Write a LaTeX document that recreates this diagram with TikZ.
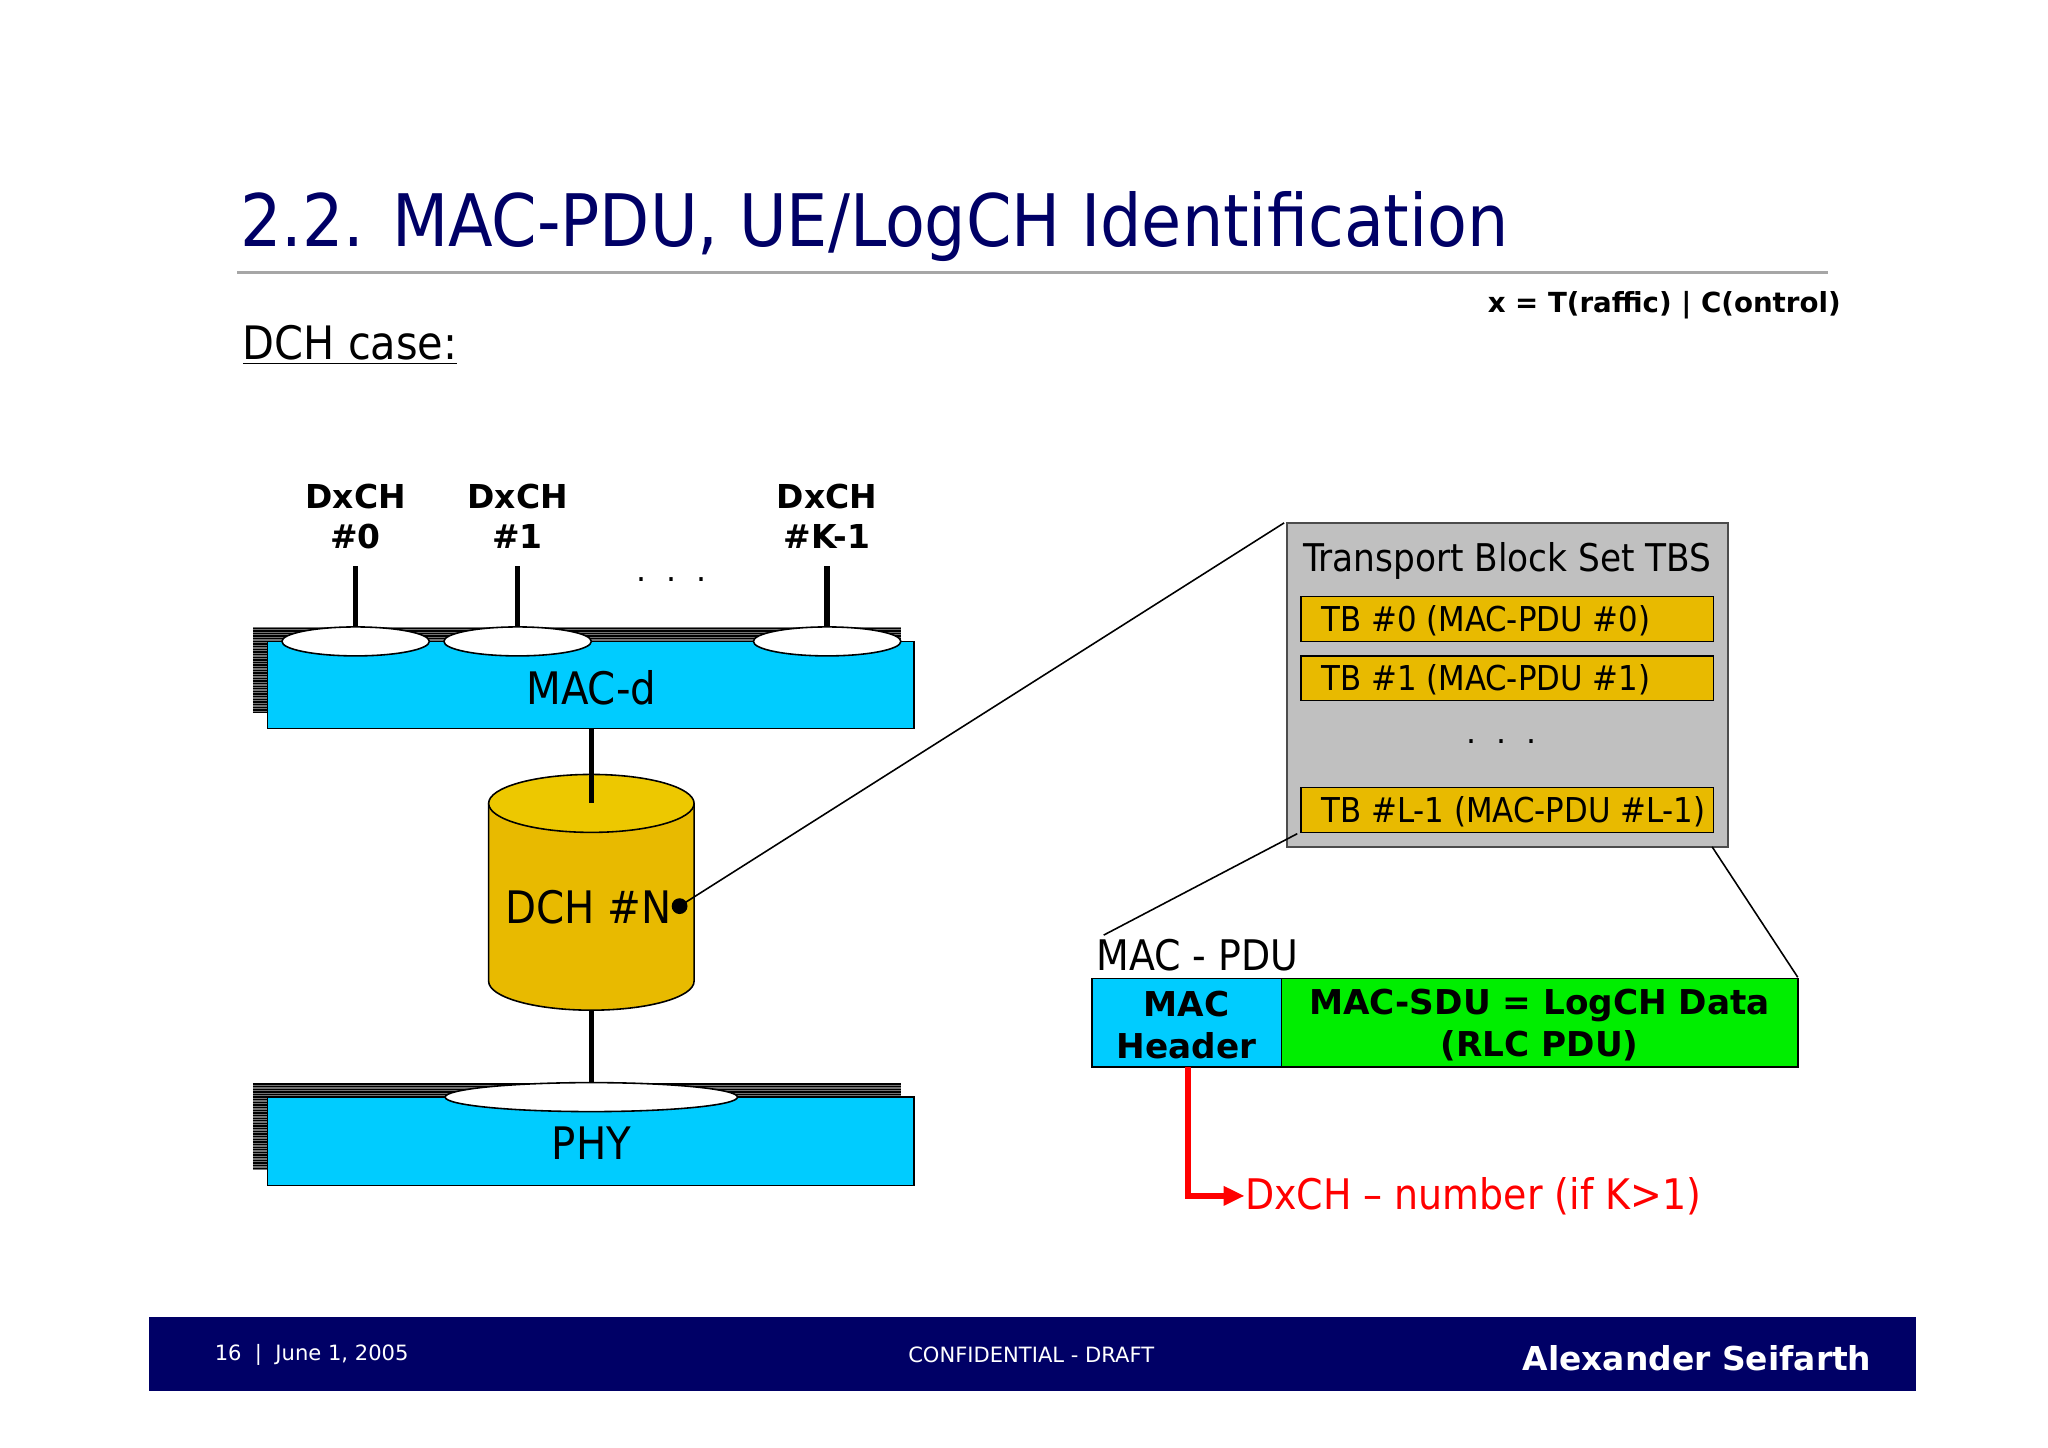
\documentclass[tikz,border=0pt]{standalone}
\usepackage{fontspec}
\setmainfont{DejaVu Sans}
\newfontfamily\condf{DejaVu Sans Condensed}
\usetikzlibrary{arrows.meta,shapes.geometric}
\definecolor{navy}{RGB}{0,0,102}
\definecolor{macblue}{RGB}{0,204,255}
\definecolor{gold}{RGB}{232,186,0}
\definecolor{tbsgray}{RGB}{192,192,192}
\definecolor{sdugreen}{RGB}{0,238,0}
\newcommand\hatchbox[4]{% x1 y1 x2 y2
  \fill[black!55] (#1,#2) rectangle (#3,#4);
  \foreach \yy in {#2,...,#4}{\ifodd\yy\draw[black,line width=0.5pt] (#1,\yy) -- (#3,\yy);\fi}}
\begin{document}
\begin{tikzpicture}[x=0.5pt,y=-0.5pt,
  layer/.style={draw=black,fill=macblue,line width=0.6pt},
  port/.style={draw=black,fill=white,line width=0.6pt},
  link/.style={line width=2pt},
  tb/.style={draw=black,fill=gold,line width=0.6pt},
  lbl/.style={font=\bfseries\fontsize{12.5}{15}\selectfont,align=center}]
\useasboundingbox (0,0) rectangle (1555,1099);
% title
\node[anchor=base west,text=navy,font=\condf\fontsize{27.5}{32}\selectfont,inner sep=0] (title) at (182,187) {2.2. MAC-PDU, UE/LogCH Identification};
\draw[black!35,line width=1.2pt] (180,207) -- (1388,207);
\node[anchor=base east,font=\bfseries\fontsize{10.5}{13}\selectfont,inner sep=0] (xdef) at (1398,237) {x = T(raffic) | C(ontrol)};
\node[anchor=base west,font=\condf\fontsize{17.5}{22}\selectfont,inner sep=0] (case) at (184,273) {\underline{DCH case:}};
% DxCH labels and stubs
\foreach \n/\x/\t in {d0/270/\#0, d1/393/\#1, dk/628/\#K-1}{
  \node[lbl] (\n) at (\x,392) {DxCH\\\t};
  \coordinate (\n b) at (\x,478);
  \draw[link] (\x,430) -- (\n b);
}
\node[font=\fontsize{12}{14}\selectfont] (dots1) at (510,440) {.\ \ .\ \ .};
% MAC-d
\hatchbox{192}{476}{684}{541}
\draw[layer] (203,487) rectangle (694,553);
\node[font=\condf\fontsize{17}{20}\selectfont] (macd) at (449,522) {MAC-d};
\foreach \x in {270,393,628}
  \draw[port] (\x,487) ellipse (56 and 11);
% cylinder
\draw[link] (449,553) -- (449,590);
\draw[draw=black,fill=gold,line width=0.6pt] (371,610) -- (371,745) arc[start angle=180,end angle=0,x radius=78,y radius=22] -- (527,610);
\draw[draw=black,fill=gold!80!yellow,line width=0.6pt] (449,610) ellipse (78 and 22);
\draw[link] (449,588) -- (449,610);
\node[font=\condf\fontsize{17}{20}\selectfont] (dch) at (447,689) {DCH \#N};
\fill (516,688) circle (6);
\coordinate (dot) at (516,688);
\draw[link] (449,767) -- (449,825);
% PHY
\hatchbox{192}{822}{684}{888}
\draw[layer] (203,833) rectangle (694,900);
\draw[port] (449,833) ellipse (111 and 11);
\node[font=\condf\fontsize{17}{20}\selectfont] (phy) at (449,868) {PHY};
% TBS
\draw[line width=0.6pt] (dot) -- (975,397);
\draw[draw=black!70,fill=tbsgray,line width=0.6pt] (977,397) rectangle (1312,643);
\node[anchor=base west,font=\condf\fontsize{14.5}{18}\selectfont,inner sep=0] (tbs) at (989,434) {Transport Block Set TBS};
\foreach \n/\y/\t in {tb0/453/TB \#0 (MAC-PDU \#0), tb1/498/TB \#1 (MAC-PDU \#1), tbl/598/TB \#L-1 (MAC-PDU \#L-1)}{
  \draw[tb] (988,\y) rectangle (1301,\y+34);
  \node[anchor=west,font=\condf\fontsize{13}{16}\selectfont,inner sep=0] (\n) at (1003,\y+18) {\t};
}
\node[font=\fontsize{12}{14}\selectfont] (dots2) at (1140,563) {.\ \ .\ \ .};
\draw[line width=0.6pt] (985,633) -- (838,710);
\draw[line width=0.6pt] (1300,643) -- (1365,742);
% MAC PDU
\node[anchor=base west,font=\condf\fontsize{16}{19}\selectfont,inner sep=0] (pdu) at (832,737) {MAC - PDU};
\draw[draw=black,fill=macblue,line width=0.6pt] (829,743) rectangle (973,810);
\draw[draw=black,fill=sdugreen,line width=0.6pt] (973,743) rectangle (1365,810);
\node[lbl,font=\bfseries\fontsize{13}{16}\selectfont] (hdr) at (901,778) {MAC\\Header};
\node[lbl,font=\bfseries\fontsize{13}{16}\selectfont] (sdu) at (1169,778) {MAC-SDU = LogCH Data\\(RLC PDU)};
\node[anchor=west,text=red,font=\condf\fontsize{16}{20}\selectfont,inner sep=0] (dx) at (945,908) {DxCH – number (if K>1)};
\draw[red,line width=2pt,-{Triangle[length=8pt,width=7pt]}] (902,810) |- (dx.west);
% footer
\fill[navy] (113,1000) rectangle (1455,1056);
\node[anchor=west,text=white,font=\fontsize{8}{10}\selectfont] (page) at (156,1029) {16\ \ |\ \ June 1, 2005};
\node[text=white,font=\fontsize{8}{10}\selectfont] (conf) at (783,1029) {CONFIDENTIAL - DRAFT};
\node[anchor=east,text=white,font=\bfseries\fontsize{12.5}{15}\selectfont] (auth) at (1428,1031) {Alexander Seifarth};
\end{tikzpicture}
\end{document}
